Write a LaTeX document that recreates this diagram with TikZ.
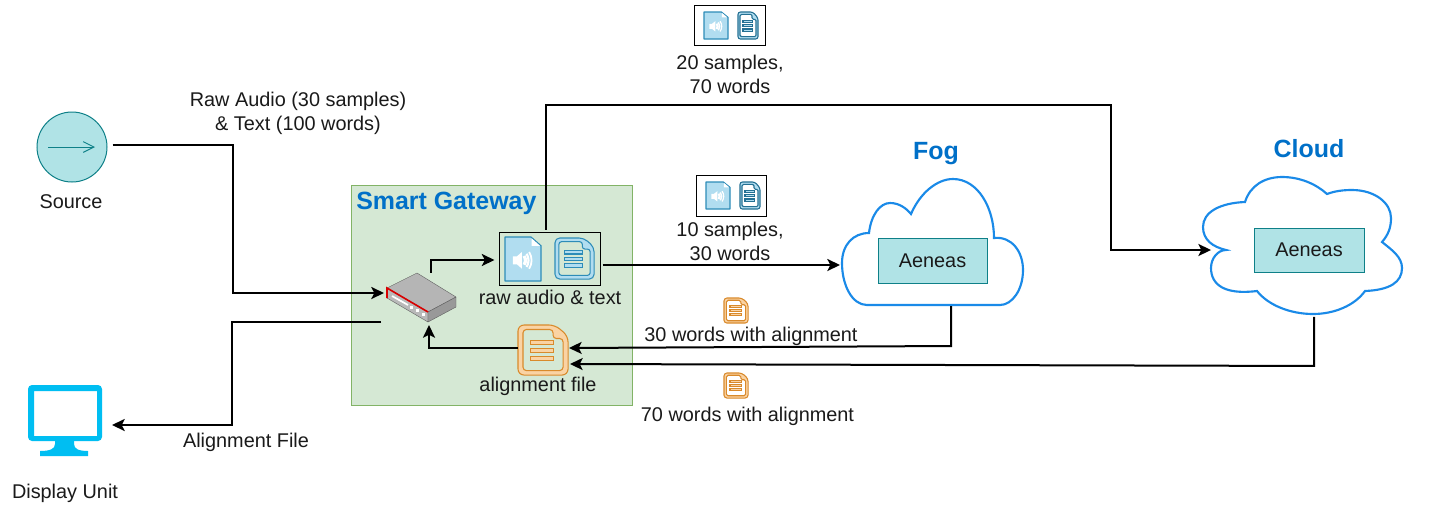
\documentclass[tikz,border=0pt]{standalone}
\usepackage{fontspec}
\setmainfont{Liberation Sans}
\usetikzlibrary{arrows.meta,shapes.geometric}
\definecolor{tealfill}{HTML}{B0E3E6}
\definecolor{tealline}{HTML}{0E8088}
\definecolor{gwfill}{HTML}{D5E8D4}
\definecolor{gwline}{HTML}{82B366}
\definecolor{cloudline}{HTML}{1A8AE8}
\definecolor{titleblue}{HTML}{0070C8}
\definecolor{bluefill}{HTML}{B1DDF0}
\definecolor{blueline}{HTML}{2D8CB8}
\definecolor{orfill}{HTML}{FAD3A4}
\definecolor{orline}{HTML}{D98A2B}
\definecolor{screen}{HTML}{00BEF2}
\definecolor{txt}{HTML}{1A1A1A}
\tikzset{
  conn/.style={draw=black,line width=1.5pt,-{Stealth[length=9.5pt,width=9pt,inset=2.2pt]},line join=miter},
  lbl/.style={font=\fontsize{14.9}{17.6}\selectfont,text=txt,align=center,inner sep=0pt},
  title/.style={font=\fontsize{18.7}{22}\selectfont\bfseries,text=titleblue,inner sep=0pt},
  procbox/.style={draw=tealline,fill=tealfill,line width=0.75pt,inner sep=0pt,font=\fontsize{14.9}{17.5}\selectfont,text=txt},
  groupbox/.style={draw=black,line width=0.75pt,inner sep=0pt},
  cloudedge/.style={draw=cloudline,fill=white,line width=1.6pt},
  anchorbox/.style={inner sep=0pt,outer sep=0pt}
}
% icons drawn in a 100 x 100 box
\newcommand{\audioicon}[4]{%
 \begin{scope}[shift={(#1,#2)},x=#3*0.0075pt,y=-#4*0.0075pt]
  \fill[bluefill,draw=blueline,line width=.9pt,line join=round] (0,0)--(72,0)--(100,20)--(100,100)--(0,100)--cycle;
  \fill[white] (74,3)--(97,20)--(74,20)--cycle;
  \fill[white] (22,44)--(33,44)--(47,34)--(47,72)--(33,62)--(22,62)--cycle;
  \draw[white,line width=.09*#3pt*0.75] (53,43) .. controls (58,50) and (58,56) .. (53,63);
  \draw[white,line width=.06*#3pt*0.75] (60,38) .. controls (67,48) and (67,58) .. (60,68);
  \draw[white,line width=.05*#3pt*0.75] (67,34) .. controls (76,46) and (76,60) .. (67,72);
 \end{scope}}
\newcommand{\docicon}[6]{%
 \begin{scope}[shift={(#1,#2)},x=#3*0.0075pt,y=-#4*0.0075pt]
  \fill[#5,draw=#6,line width=.8pt,line join=round,even odd rule]
    [rounded corners=#3*0.09pt] (0,0)--(74,0)--(100,22)--(100,100)--(0,100)--cycle
    [rounded corners=#3*0.05pt] (10,9)--(70,9)--(70,27)--(90,27)--(90,91)--(10,91)--cycle;
  \foreach \yy in {31,47,63}{\fill[#5,draw=#6,line width=.8pt] (25,\yy) rectangle (71,\yy+8);}
 \end{scope}}
\newcommand{\fogpath}{(867,305) .. controls (852,305) and (842,285) .. (842,263)
  .. controls (842,245) and (853,233) .. (869,233)
  .. controls (871,215) and (880,203) .. (890,203)
  .. controls (899,203) and (906,208) .. (911,214)
  .. controls (920,193) and (937,179) .. (953,179)
  .. controls (978,179) and (994,208) .. (994,238)
  .. controls (1012,236) and (1023,252) .. (1023,270)
  .. controls (1023,290) and (1012,305) .. (1000,305) -- cycle}
\newcommand{\cloudpath}{(1226,250) .. controls (1213,247) and (1203,240) .. (1203,227)
  .. controls (1203,212) and (1220,203) .. (1245,202)
  .. controls (1250,186) and (1264,177) .. (1282,177)
  .. controls (1300,177) and (1316,184) .. (1327,194)
  .. controls (1335,191) and (1343,190) .. (1352,190)
  .. controls (1375,190) and (1391,203) .. (1391,218)
  .. controls (1391,228) and (1388,235) .. (1382,242)
  .. controls (1392,250) and (1402,257) .. (1402,268)
  .. controls (1402,282) and (1390,290) .. (1365,291)
  .. controls (1355,305) and (1335,314) .. (1313,314)
  .. controls (1290,314) and (1268,305) .. (1257,291)
  .. controls (1225,295) and (1211,285) .. (1211,268)
  .. controls (1211,258) and (1218,250) .. (1226,250) -- cycle}
\begin{document}
\begin{tikzpicture}[x=0.75pt,y=-0.75pt]
\useasboundingbox (0,0) rectangle (1430,511);
\fill[white] (0,0) rectangle (1430,511);

% Smart Gateway area
\node[draw=gwline,fill=gwfill,line width=.75pt,minimum width=210.75pt,minimum height=165pt,inner sep=0pt,anchor=north west] (gw) at (351,185) {};
\node[title,anchor=west] (gwt) at (356,203) {Smart Gateway};

% clouds
\draw[cloudedge] \fogpath;
\draw[cloudedge] \cloudpath;
\node[title] (fogt) at (936,154) {Fog};
\node[title] (cloudt) at (1309,149) {Cloud};
\node[procbox,minimum width=81.75pt,minimum height=33.75pt] (aen1) at (932.5,260.5) {\raisebox{-.75pt}{Aeneas}};
\node[procbox,minimum width=82.5pt,minimum height=33pt] (aen2) at (1309,250) {\raisebox{-.75pt}{Aeneas}};
\node[anchorbox,minimum width=135pt,minimum height=93.75pt] (fog) at (932.5,242) {};
\node[anchorbox,minimum width=142pt,minimum height=103pt] (cloud) at (1305,245.5) {};

% source
\node[circle,draw=tealline,fill=tealfill,line width=.75pt,minimum size=52.5pt,inner sep=0pt] (src) at (72,147) {};
\draw[tealline,line width=.75pt,-{Straight Barb[length=8pt,width=8pt]}] ([shift={(-24,0)}]src.center) -- ([shift={(23,0)}]src.center);
\node[lbl] (srcl) at (71,202) {Source};

% display
\fill[screen,even odd rule] [rounded corners=3pt] (28,385) rectangle (102,441) [sharp corners] (34,391) rectangle (97,436);
\fill[screen] (55,440) -- (55,444) .. controls (55,449) and (50,451) .. (40,451) -- (40,456) -- (88,456) -- (88,451) .. controls (79,451) and (74,449) .. (74,444) -- (74,440) -- cycle;
\node[anchorbox,minimum width=55.5pt,minimum height=42pt] (disp) at (65,413) {};
\node[lbl] (dispr) at (65,493) {Display Unit};

% router
\fill[gray!58!white,draw=gray!75!black,line width=.3pt,line join=round] (387,288)--(417,273)--(456,297)--(428,312)--cycle;
\fill[gray!55!white,draw=gray!75!black,line width=.3pt,line join=round] (387,288)--(428,312)--(428,322)--(387,298)--cycle;
\fill[gray!80!white,draw=gray!75!black,line width=.3pt,line join=round] (428,312)--(456,297)--(456,307)--(428,322)--cycle;
\draw[red!85!black,line width=1.2pt] (387,298)--(387,288)--(428,312);
\draw[white,line width=1.3pt] (392,296)--(408,305);
\foreach \xx/\yy in {410/306,416/309,422/313}{\fill[white] (\xx,\yy) rectangle ++(3,3);}
\node[anchorbox,minimum width=52.5pt,minimum height=37.5pt] (rt) at (421,297.5) {};

% main bundle
\node[groupbox,minimum width=75.75pt,minimum height=39.75pt] (raw) at (549.5,258.5) {};
\audioicon{505}{237}{36}{44}
\docicon{555}{238}{39}{41}{bluefill}{blueline}
\node[lbl] (rawl) at (550,297.5) {raw audio \& text};

% alignment file
\node[anchorbox,minimum width=37.5pt,minimum height=37.5pt] (af) at (543,350) {};
\docicon{518}{325}{50}{50}{orfill}{orline}
\node[lbl] (afl) at (538,386) {alignment file};

% upper bundles
\node[groupbox,minimum width=53.25pt,minimum height=30pt] (b20) at (729.5,25) {};
\audioicon{704}{12}{24}{27}
\docicon{738}{12}{20}{27}{bluefill}{blueline!80!black}
\node[lbl] (b20l) at (730,74.5) {20 samples,\\70 words};
\node[groupbox,minimum width=52.5pt,minimum height=30.75pt] (b10) at (731,195.5) {};
\audioicon{706}{182}{24}{27}
\docicon{740}{182}{20}{27}{bluefill}{blueline!80!black}
\node[lbl] (b10l) at (730,241.5) {10 samples,\\30 words};

% orange small icons
\docicon{724}{298}{24}{25}{orfill}{orline}
\docicon{724}{373}{24}{25}{orfill}{orline}
\node[lbl] (w30) at (751,336.5) {30 words with alignment};
\node[lbl] (w70) at (747.5,416.5) {70 words with alignment};

% other labels
\node[lbl] (rawt) at (298,113) {Raw Audio (30 samples)\\[.4pt]\& Text (100 words)};
\node[lbl] (alt) at (246,442.5) {Alignment File};

% connectors
\draw[conn] ([shift={(5,-2)}]src.east) -- ++(120,0) |- ([shift={(-2,-4.5)}]rt.west);
\draw[conn] ([shift={(-5,24.5)}]rt.west) -- ++(-149,0) |- ([shift={(10,12)}]disp.east);
\draw[conn] ([shift={(10,0)}]rt.north) |- ([shift={(-4,1.5)}]raw.west);
\draw[conn] ([shift={(0,-2)}]af.west) -- ++(-89,0) -- ([shift={(8,2.5)}]rt.south);
\draw[conn] ([shift={(2,6.5)}]raw.east) -- ([shift={(-2.5,23)}]fog.west);
\draw[conn] ([shift={(-3.5,-2)}]raw.north) -- ++(0,-125) -- ++(565,0) |- ([shift={(0.7,4.5)}]cloud.west);
\draw[conn] ([shift={(18.5,1.5)}]fog.south) -- ++(0,40) -- ([shift={(1,-2)}]af.east);
\draw[conn] ([shift={(9,2.8)}]cloud.south) -- ++(0,49) -- ([shift={(2,14)}]af.east);
\end{tikzpicture}
\end{document}
